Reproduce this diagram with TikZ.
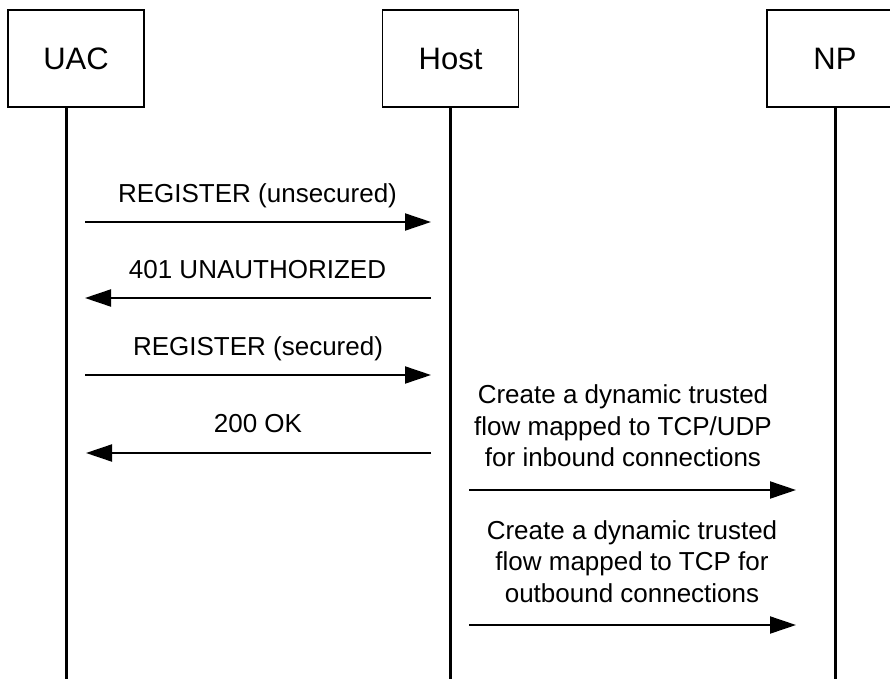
\documentclass[tikz,border=0pt]{standalone}
\usepackage{fontspec}
\setmainfont{Liberation Sans}
\usetikzlibrary{arrows.meta}
\begin{document}
\begin{tikzpicture}[x=1pt,y=-1pt,
  actor/.style={draw, line width=1.5pt, minimum width=136pt, minimum height=97pt, inner sep=0pt, font=\fontsize{31}{36}\selectfont},
  life/.style={line width=3pt},
  msg/.style={line width=2pt, -{Triangle[length=26pt,width=17pt]}},
  lbl/.style={font=\fontsize{26}{31.5}\selectfont, inner sep=0pt, anchor=base, align=center}]
\useasboundingbox (0,0) rectangle (890,679);
% actors
\node[actor] (uac) at (76,58.5) {UAC};
\node[actor] (host) at (450.5,58.5) {Host};
\node[actor] (np) at (835,58.5) {NP};
% lifelines
\coordinate (uacend) at (66,679);
\coordinate (hostend) at (450.5,679);
\coordinate (npend) at (835,679);
\draw[life] (uacend |- uac.south) -- (uacend);
\draw[life] (hostend |- host.south) -- (hostend);
\draw[life] (npend |- np.south) -- (npend);
% message end points
\coordinate (m1s) at (85,222);   \coordinate (m1e) at (431,222);
\coordinate (m2s) at (431,298);  \coordinate (m2e) at (85,298);
\coordinate (m3s) at (85,375);   \coordinate (m3e) at (431,375);
\coordinate (m4s) at (431,453);  \coordinate (m4e) at (86,453);
\coordinate (m5s) at (469,490);  \coordinate (m5e) at (796,490);
\coordinate (m6s) at (469,625);  \coordinate (m6e) at (796,625);
\draw[msg] (m1s) -- (m1e);
\draw[msg] (m2s) -- (m2e);
\draw[msg] (m3s) -- (m3e);
\draw[msg] (m4s) -- (m4e);
\draw[msg] (m5s) -- (m5e);
\draw[msg] (m6s) -- (m6e);
% labels
\node[lbl] (l1) at (257.5,202) {REGISTER (unsecured)};
\node[lbl] (l2) at (257.5,278) {401 UNAUTHORIZED};
\node[lbl] (l3) at (258,355) {REGISTER (secured)};
\node[lbl] (l4) at (258,432) {200 OK};
\node[lbl] (l5) at (623,466.5) {Create a dynamic trusted\\flow mapped to TCP/UDP\\for inbound connections};
\node[lbl] (l6) at (632,602) {Create a dynamic trusted\\flow mapped to TCP for\\outbound connections};
\end{tikzpicture}
\end{document}
